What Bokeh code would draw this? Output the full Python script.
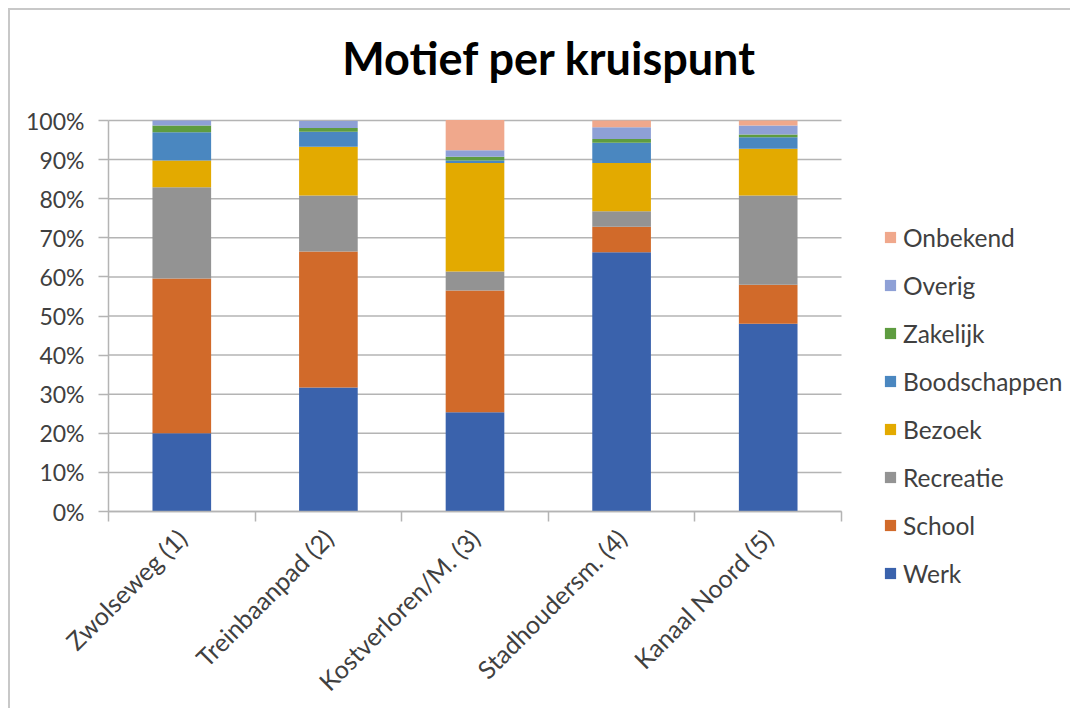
import math
from bokeh.plotting import figure
from bokeh.layouts import row
from bokeh.models import (Range1d, FixedTicker, Legend, LegendItem, ColumnDataSource,
                          PrintfTickFormatter, Label)
from bokeh.embed import file_html
from bokeh.resources import INLINE

categories = ["Zwolseweg (1)", "Treinbaanpad (2)", "Kostverloren/M. (3)",
              "Stadhoudersm. (4)", "Kanaal Noord (5)"]
motieven = ["Werk", "School", "Recreatie", "Bezoek", "Boodschappen",
            "Zakelijk", "Overig", "Onbekend"]

werk = [20.0, 31.7, 25.4, 66.3, 48.0]
school = [39.6, 34.8, 31.1, 6.5, 10.0]
recreatie = [23.3, 14.3, 4.9, 4.0, 22.8]
bezoek = [6.9, 12.5, 27.7, 12.3, 12.0]
boodschappen = [7.2, 3.8, 0.7, 5.2, 2.9]
zakelijk = [1.7, 1.0, 0.9, 1.0, 0.7]
overig = [1.3, 1.8, 1.7, 3.0, 2.3]
onbekend = [0.0, 0.0, 7.7, 1.7, 1.3]

colors = ["#3A62AC", "#D16A2A", "#939393", "#E3AA00", "#4A87C0",
          "#5E9C40", "#8EA0D6", "#F0A88C"]

y_ticks = [0, 10, 20, 30, 40, 50, 60, 70, 80, 90, 100]
title_text = "Motief per kruispunt"

FONT = "Lato"
GRID = "#B4B4B4"
TEXT = "#404040"

n = len(categories)
x_pos = [i + 0.5 for i in range(n)]
source = ColumnDataSource(data=dict(
    x=x_pos, Werk=werk, School=school, Recreatie=recreatie, Bezoek=bezoek,
    Boodschappen=boodschappen, Zakelijk=zakelijk, Overig=overig, Onbekend=onbekend))

# layout (canvas px); the frame fills the whole chart canvas, axes are pinned
H = 698
PW = 841          # chart figure width
LW = 219          # legend figure width
X0, XN = 98, 831      # canvas columns of category edge 0 and n
Y100, Y0 = 110, 501   # canvas rows of the 100% and 0% lines
px_x = (XN - X0) / float(n)
px_y = (Y0 - Y100) / 100.0

p = figure(width=PW, height=H,
           x_range=Range1d(-X0 / px_x, n + (PW - XN) / px_x),
           y_range=Range1d(-(H - Y0) / px_y, Y0 / px_y),
           output_backend="svg", toolbar_location=None, min_border=0)
p.outline_line_color = None
p.background_fill_color = "white"
p.border_fill_color = "white"
p.grid.visible = False

# horizontal gridlines over the category span only
p.segment(x0=0, x1=n, y0=y_ticks, y1=y_ticks, line_color=GRID, line_width=1.5)

renderers = p.vbar_stack(motieven, x="x", width=0.4, fill_color=colors,
                         line_color=None, source=source)

# y axis, pinned at x = 0
ya = p.yaxis[0]
ya.fixed_location = 0
ya.ticker = FixedTicker(ticks=y_ticks, minor_ticks=[])
ya.bounds = (0, 100)
ya.formatter = PrintfTickFormatter(format="%d%%")
ya.axis_line_color = GRID
ya.axis_line_width = 1.5
ya.major_tick_line_color = GRID
ya.major_tick_line_width = 1.5
ya.major_tick_out = 10
ya.major_tick_in = 0
ya.major_label_standoff = 14
ya.major_label_text_font = FONT
ya.major_label_text_font_size = "23px"
ya.major_label_text_color = TEXT

# x axis, pinned at 0%
xa = p.xaxis[0]
xa.fixed_location = 0
xa.bounds = (0, n)
xa.ticker = FixedTicker(ticks=x_pos, minor_ticks=list(range(n + 1)))
xa.major_label_overrides = {x: c for x, c in zip(x_pos, categories)}
xa.major_tick_line_color = None
xa.major_tick_out = 0
xa.major_tick_in = 0
xa.minor_tick_line_color = GRID
xa.minor_tick_line_width = 1.5
xa.minor_tick_out = 10
xa.minor_tick_in = 0
xa.axis_line_color = GRID
xa.axis_line_width = 1.5
xa.major_label_orientation = math.pi / 4
xa.major_label_standoff = 12
xa.major_label_text_font = FONT
xa.major_label_text_font_size = "25px"
xa.major_label_text_color = TEXT

# title, centred over the whole chart
title_sx, title_sy = 539, 47
title = Label(x=(title_sx - X0) / px_x, y=(Y0 - title_sy) / px_y,
              text=title_text, text_align="center", text_baseline="alphabetic",
              text_font=FONT, text_font_style="bold", text_font_size="45px",
              text_color="black")
p.add_layout(title)

# legend figure (its bars fall outside its own x range; only the legend shows)
q = figure(width=LW, height=H, x_range=Range1d(-2, -1), y_range=Range1d(0, 100),
           output_backend="svg", toolbar_location=None,
           x_axis_location=None, y_axis_location=None, min_border=0)
q.grid.visible = False
q.outline_line_color = None
q.background_fill_color = "white"
q.border_fill_color = "white"
keys = q.vbar_stack(motieven, x="x", width=0.4, fill_color=colors,
                    line_color=None, source=source)

items = [LegendItem(label=m, renderers=[r]) for m, r in zip(motieven, keys)]
legend = Legend(items=list(reversed(items)), location=(32, 120))
legend.border_line_color = None
legend.background_fill_alpha = 0
legend.padding = 0
legend.margin = 0
legend.glyph_width = 14
legend.glyph_height = 14
legend.label_standoff = 6
legend.label_height = 30
legend.spacing = 18
legend.label_text_font = FONT
legend.label_text_font_size = "24.5px"
legend.label_text_color = TEXT
q.add_layout(legend, "center")

layout = row(p, q)
layout.styles = {"margin-left": "8px", "margin-top": "8px",
                 "border-top": "2px solid #C8C8C8", "border-left": "2px solid #C8C8C8"}

open("out.html", "w").write(file_html(layout, INLINE))
